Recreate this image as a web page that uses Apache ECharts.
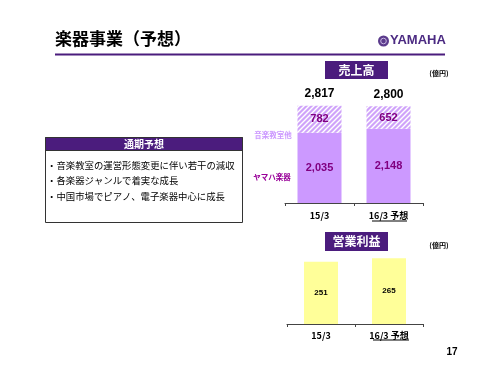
<!DOCTYPE html>
<html>
<head>
<meta charset="utf-8">
<script src="https://cdn.jsdelivr.net/npm/echarts@6/dist/echarts.min.js"></script>
<style>
  html, body { margin: 0; padding: 0; background: #fff; }
  #chart { width: 500px; height: 375px; }
</style>
</head>
<body>
<div id="chart"></div>
<script>
// data
const categories = ['15/3', '16/3 予想'];
const yamahaInstruments = [2035, 2148];
const musicSchoolsEtc = [782, 652];
const salesTotal = [2817, 2800];
const operatingIncome = [251, 265];
const outlookLines = [
  '・音楽教室の運営形態変更に伴い若干の減収',
  '・各楽器ジャンルで着実な成長',
  '・中国市場でピアノ、電子楽器中心に成長'
];

const PURPLE = '#4B1C7D';
const JP = '"Noto Sans CJK JP", sans-serif';
const NUM = '"Liberation Sans", Arial, sans-serif';

// hatched fill for 音楽教室他
const pat = document.createElement('canvas');
pat.width = 5; pat.height = 5;
const pc = pat.getContext('2d');
pc.fillStyle = '#CFA3FA';
pc.fillRect(0, 0, 5, 5);
pc.strokeStyle = '#ffffff';
pc.lineWidth = 1.4;
pc.beginPath();
pc.moveTo(-1, 6); pc.lineTo(6, -1);
pc.moveTo(-1, 1); pc.lineTo(1, -1);
pc.moveTo(4, 6); pc.lineTo(6, 4);
pc.stroke();

const chart = echarts.init(document.getElementById('chart'));

const catAxis = (gridIndex, margin) => ({
  type: 'category',
  gridIndex: gridIndex,
  data: categories,
  axisLine: { lineStyle: { color: '#444', width: 1 } },
  axisTick: { show: true, length: 3, lineStyle: { color: '#444' } },
  axisLabel: {
    margin: margin,
    color: '#000',
    fontFamily: JP,
    fontWeight: 'bold',
    fontSize: 9
  }
});

const option = {
  animation: false,
  backgroundColor: '#fff',
  grid: [
    { left: 285, width: 138, top: 99.4, height: 103.6 },
    { left: 287, width: 136, top: 249.6, height: 74.4 }
  ],
  xAxis: [catAxis(0, 8), catAxis(1, 7)],
  yAxis: [
    { type: 'value', gridIndex: 0, min: 0, max: 3000, show: false },
    { type: 'value', gridIndex: 1, min: 0, max: 300, show: false }
  ],
  series: [
    {
      name: 'ヤマハ楽器',
      type: 'bar',
      stack: 'sales',
      xAxisIndex: 0, yAxisIndex: 0,
      barWidth: 44,
      data: yamahaInstruments,
      itemStyle: { color: '#CC99FF' },
      label: {
        show: true, position: 'inside',
        color: '#800080', fontFamily: NUM, fontWeight: 'bold', fontSize: 11,
        formatter: p => p.value.toLocaleString('en-US')
      }
    },
    {
      name: '音楽教室他',
      type: 'bar',
      stack: 'sales',
      xAxisIndex: 0, yAxisIndex: 0,
      barWidth: 44,
      data: musicSchoolsEtc,
      itemStyle: { color: { image: pat, repetition: 'repeat' } },
      label: {
        show: true, position: 'inside',
        color: '#800080', fontFamily: NUM, fontWeight: 'bold', fontSize: 11
      }
    },
    {
      name: 'total',
      type: 'bar',
      stack: 'sales',
      xAxisIndex: 0, yAxisIndex: 0,
      barWidth: 44,
      data: salesTotal.map(() => 0),
      itemStyle: { color: 'transparent' },
      label: {
        show: true, position: 'top', distance: 6,
        color: '#000', fontFamily: NUM, fontWeight: 'bold', fontSize: 12,
        formatter: p => salesTotal[p.dataIndex].toLocaleString('en-US')
      }
    },
    {
      name: '営業利益',
      type: 'bar',
      xAxisIndex: 1, yAxisIndex: 1,
      barWidth: 34,
      data: operatingIncome,
      itemStyle: { color: '#FFFF99' },
      label: {
        show: true, position: 'inside',
        color: '#000', fontFamily: NUM, fontWeight: 'bold', fontSize: 8
      }
    }
  ],
  graphic: [
    // page header
    { type: 'text', left: 55, top: 30, style: { text: '楽器事業（予想）', font: 'bold 17px ' + JP, fill: '#000' } },
    { type: 'rect', shape: { x: 55, y: 53.5, width: 390, height: 2 }, style: { fill: PURPLE } },
    // YAMAHA logo
    { type: 'circle', shape: { cx: 383.5, cy: 41, r: 5.5 }, style: { fill: '#5B3B8C' } },
    { type: 'circle', shape: { cx: 383.5, cy: 41, r: 2.8 }, style: { fill: 'none', stroke: '#C9B8E2', lineWidth: 1 } },
    { type: 'text', left: 390, top: 34, style: { text: 'YAMAHA', font: 'bold 13px "Liberation Sans Narrow", "Liberation Sans", sans-serif', fill: '#4B2A82' } },
    // chart titles
    { type: 'rect', shape: { x: 325, y: 61, width: 63, height: 18 }, style: { fill: PURPLE } },
    { type: 'text', x: 356.5, y: 70, style: { text: '売上高', font: 'bold 12px ' + JP, fill: '#fff', align: 'center', verticalAlign: 'middle' } },
    { type: 'text', x: 439, y: 73, style: { text: '(億円)', font: 'bold 7px ' + JP, fill: '#000', align: 'center', verticalAlign: 'middle' } },
    { type: 'rect', shape: { x: 325, y: 232, width: 63, height: 19 }, style: { fill: PURPLE } },
    { type: 'text', x: 356.5, y: 241.5, style: { text: '営業利益', font: 'bold 12px ' + JP, fill: '#fff', align: 'center', verticalAlign: 'middle' } },
    { type: 'text', x: 439, y: 245, style: { text: '(億円)', font: 'bold 7px ' + JP, fill: '#000', align: 'center', verticalAlign: 'middle' } },
    // segment names
    { type: 'text', x: 273, y: 135, style: { text: '音楽教室他', font: 'bold 7.5px ' + JP, fill: '#CC99FF', align: 'center', verticalAlign: 'middle' } },
    { type: 'text', x: 272, y: 177.5, style: { text: 'ヤマハ楽器', font: 'bold 7.5px ' + JP, fill: '#990099', align: 'center', verticalAlign: 'middle' } },
    // underline of forecast label
    { type: 'line', shape: { x1: 372, y1: 221, x2: 407, y2: 221 }, style: { stroke: '#000', lineWidth: 1 } },
    { type: 'line', shape: { x1: 373, y1: 340, x2: 409, y2: 340 }, style: { stroke: '#000', lineWidth: 1 } },
    // outlook box
    { type: 'rect', shape: { x: 45.5, y: 137.5, width: 197, height: 85 }, style: { fill: '#fff', stroke: '#333', lineWidth: 1 } },
    { type: 'rect', shape: { x: 45.5, y: 137.5, width: 197, height: 13 }, style: { fill: PURPLE, stroke: '#333', lineWidth: 1 } },
    { type: 'text', x: 144, y: 144.5, style: { text: '通期予想', font: 'bold 10px ' + JP, fill: '#fff', align: 'center', verticalAlign: 'middle' } }
  ].concat(outlookLines.map((t, i) => ({
    type: 'text', x: 47, y: 165 + i * 15.5,
    style: { text: t, font: '9.4px ' + JP, fill: '#000', verticalAlign: 'middle' }
  }))).concat([
    { type: 'text', x: 452, y: 352, style: { text: '17', font: 'bold 10px ' + NUM, fill: '#000', align: 'center', verticalAlign: 'middle' } }
  ])
};

chart.setOption(option);
</script>
</body>
</html>
